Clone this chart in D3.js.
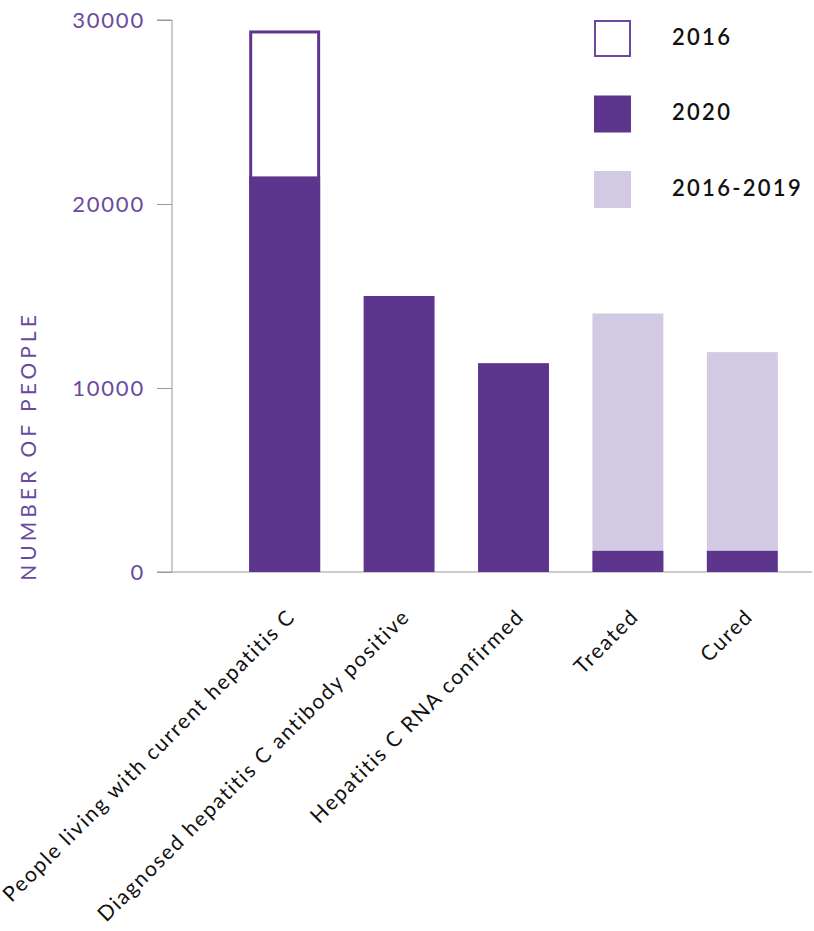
<!DOCTYPE html>
<html>
<head>
<meta charset="utf-8">
<script src="https://cdn.jsdelivr.net/npm/d3@7"></script>
<style>
  body { margin: 0; background: #fff; }
  text { font-family: Lato, "Open Sans", sans-serif; }
</style>
</head>
<body>
<svg id="chart"></svg>
<script>
var categories = ["People living with current hepatitis C", "Diagnosed hepatitis C antibody positive", "Hepatitis C RNA confirmed", "Treated", "Cured"];
var values2016 = [29350, null, null, null, null];
var values2020 = [21500, 15000, 11350, 1150, 1150];
var values2016to2019 = [null, null, null, 14050, 11950];
var yTicks = [0, 10000, 20000, 30000];
var legendLabels = ["2016", "2020", "2016-2019"];

var w = 814, h = 931;
var purple = "#5e358c", purpleText = "#6a4aa0", lilac = "#d2cae3", axisGrey = "#999";

var svg = d3.select("#chart").attr("width", w).attr("height", h);

var y = d3.scaleLinear().domain([0, 30000]).range([572, 20]);
var x = d3.scaleBand().domain(categories).range([192, 835]).paddingInner(0.38).paddingOuter(0.5);

// y axis
var yAxis = svg.append("g").attr("transform", "translate(172,0)")
  .call(d3.axisLeft(y).tickValues(yTicks).tickFormat(d3.format("d")).tickSize(15).tickPadding(12));
yAxis.select(".domain").attr("stroke", axisGrey).attr("d", "M-15," + y(30000) + "H0V" + y(0));
yAxis.selectAll(".tick line").attr("stroke", axisGrey);
yAxis.selectAll(".tick text")
  .attr("fill", purpleText)
  .style("font-size", "22px")
  .style("letter-spacing", "1.8px");

// baseline
svg.append("line")
  .attr("x1", 157).attr("x2", 812)
  .attr("y1", y(0)).attr("y2", y(0))
  .attr("stroke", axisGrey);

// y label
svg.append("text")
  .attr("transform", "translate(36," + 446 + ") rotate(-90)")
  .attr("text-anchor", "middle")
  .attr("fill", purpleText)
  .style("font-size", "21px")
  .style("letter-spacing", "4px")
  .text("NUMBER OF PEOPLE");

// 2016-2019 bars
svg.append("g").selectAll("rect")
  .data(categories.filter(function(d, i){ return values2016to2019[i] != null; }))
  .enter().append("rect")
    .attr("x", function(d){ return x(d); })
    .attr("y", function(d){ return y(values2016to2019[categories.indexOf(d)]); })
    .attr("width", x.bandwidth())
    .attr("height", function(d){ return y(0) - y(values2016to2019[categories.indexOf(d)]); })
    .attr("fill", lilac);

// 2016 outline bars
svg.append("g").selectAll("rect")
  .data(categories.filter(function(d, i){ return values2016[i] != null; }))
  .enter().append("rect")
    .attr("x", function(d){ return x(d) + 1.5; })
    .attr("y", function(d){ return y(values2016[categories.indexOf(d)]); })
    .attr("width", x.bandwidth() - 3)
    .attr("height", function(d){ return y(0) - y(values2016[categories.indexOf(d)]) - 2; })
    .attr("fill", "#fff")
    .attr("stroke", purple)
    .attr("stroke-width", 3);

// 2020 bars
svg.append("g").selectAll("rect")
  .data(categories)
  .enter().append("rect")
    .attr("x", function(d){ return x(d); })
    .attr("y", function(d, i){ return y(values2020[i]); })
    .attr("width", x.bandwidth())
    .attr("height", function(d, i){ return y(0) - y(values2020[i]); })
    .attr("fill", purple);

// category labels
svg.append("g").selectAll("text")
  .data(categories)
  .enter().append("text")
    .attr("transform", function(d){ return "translate(" + (x(d) + x.bandwidth()/2 + 12) + ",618) rotate(-45)"; })
    .attr("text-anchor", "end")
    .attr("fill", "#111")
    .style("font-size", "21px")
    .style("letter-spacing", "1.7px")
    .text(function(d){ return d; });

// legend
var legend = svg.append("g").selectAll("g")
  .data(legendLabels)
  .enter().append("g")
    .attr("transform", function(d, i){ return "translate(594," + (20 + i*75.5) + ")"; });
legend.append("rect")
  .attr("x", function(d, i){ return i == 0 ? 1 : 0; })
  .attr("y", function(d, i){ return i == 0 ? 1 : 0; })
  .attr("width", function(d, i){ return i == 0 ? 35 : 37; })
  .attr("height", function(d, i){ return i == 0 ? 35 : 37; })
  .attr("fill", function(d, i){ return i == 0 ? "#fff" : (i == 1 ? purple : lilac); })
  .attr("stroke", function(d, i){ return i == 0 ? purpleText : "none"; })
  .attr("stroke-width", 2);
legend.append("text")
  .attr("x", 78)
  .attr("y", 17)
  .attr("dy", "0.36em")
  .attr("fill", "#111")
  .style("font-size", "22px")
  .style("font-weight", "600")
  .style("letter-spacing", "2.3px")
  .text(function(d){ return d; });
</script>
</body>
</html>
